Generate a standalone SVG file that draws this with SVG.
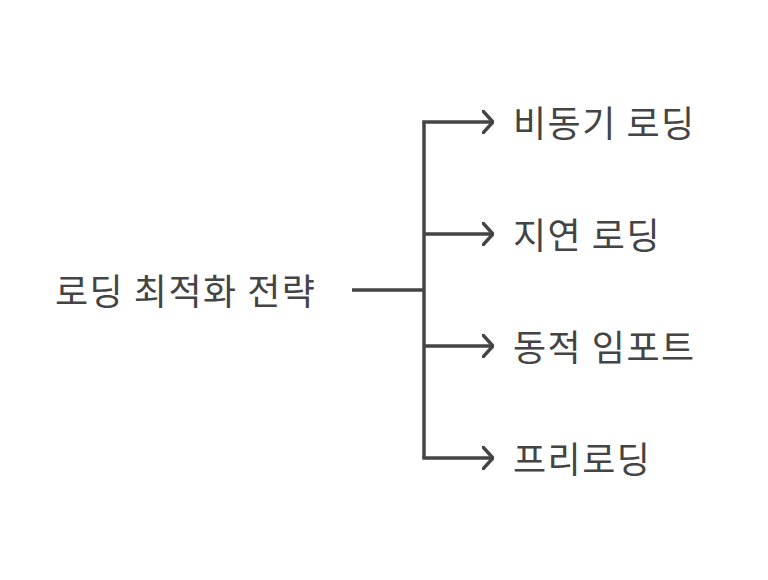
<svg xmlns="http://www.w3.org/2000/svg" width="768" height="580" viewBox="0 0 768 580">
<style>
text{font-family:"Noto Sans CJK KR","Noto Sans",sans-serif;font-size:36px;font-weight:400;letter-spacing:1.5px;fill:#444;dominant-baseline:central}
.c{fill:none;stroke:#444;stroke-width:3.5;stroke-linecap:butt;stroke-linejoin:miter}
</style>
<defs>
<marker id="a" markerWidth="12" markerHeight="24" refX="10" refY="12" orient="auto" markerUnits="userSpaceOnUse">
<path d="M0,0 L11,12 L0,24" fill="none" stroke="#444" stroke-width="3.5"/>
</marker>
</defs>
<rect width="768" height="580" fill="#fff"/>
<g id="connectors">
<path class="c" d="M352,290 H424"/>
<path class="c" d="M424,122 V458"/>
<path class="c" d="M422.25,122 H492" marker-end="url(#a)"/>
<path class="c" d="M424,234 H492" marker-end="url(#a)"/>
<path class="c" d="M424,346 H492" marker-end="url(#a)"/>
<path class="c" d="M422.25,458 H492" marker-end="url(#a)"/>
</g>
<g id="root"><text x="55" y="289">로딩 최적화 전략</text></g>
<g id="n1"><text x="513" y="121">비동기 로딩</text></g>
<g id="n2"><text x="513" y="233">지연 로딩</text></g>
<g id="n3"><text x="513" y="345">동적 임포트</text></g>
<g id="n4"><text x="513" y="457">프리로딩</text></g>
</svg>
